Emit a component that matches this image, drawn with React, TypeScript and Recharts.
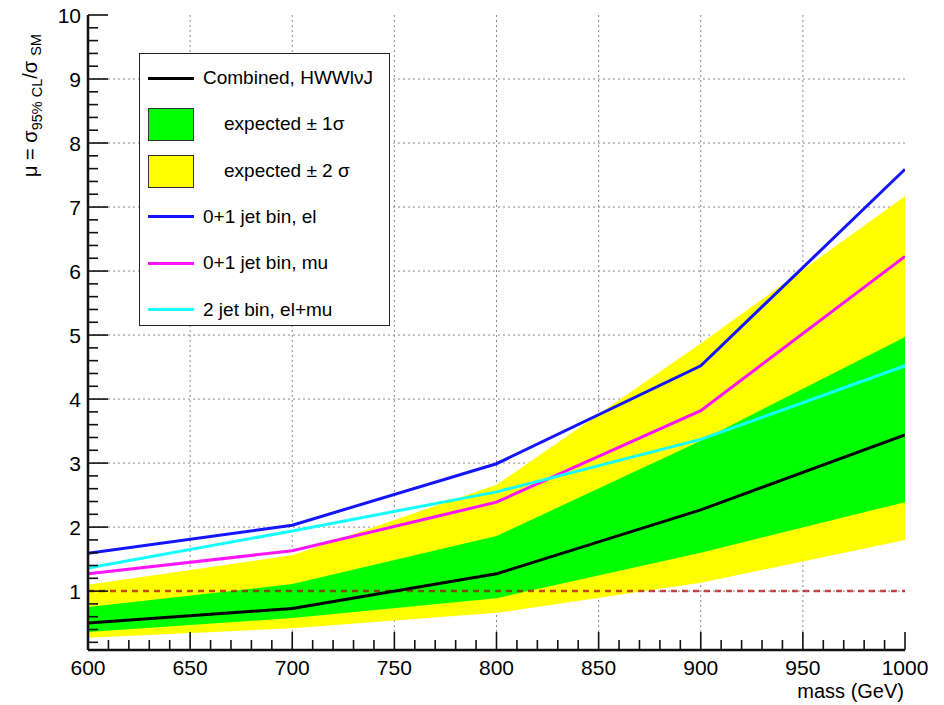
import React from 'react';
import { ComposedChart, Line, Area, XAxis, YAxis, ReferenceLine, CartesianGrid } from 'recharts';

// ---- data ----
const masses = [600, 700, 800, 900, 1000];
const combined = [0.5, 0.73, 1.27, 2.27, 3.44];
const el01 = [1.59, 2.03, 2.99, 4.52, 7.59];
const mu01 = [1.27, 1.63, 2.39, 3.82, 6.23];
const jet2 = [1.36, 1.94, 2.55, 3.37, 4.52];
const sig1Lo = [0.36, 0.58, 0.89, 1.6, 2.39];
const sig1Hi = [0.75, 1.11, 1.86, 3.35, 4.97];
const sig2Lo = [0.27, 0.42, 0.66, 1.13, 1.8];
const sig2Hi = [1.1, 1.56, 2.66, 4.87, 7.17];
const smLevel = 1;

const xMajor = [600, 650, 700, 750, 800, 850, 900, 950, 1000];
const yMajor = [1, 2, 3, 4, 5, 6, 7, 8, 9, 10];
const xDomain: [number, number] = [600, 1000];
const yDomain: [number, number] = [0.08, 10];

const xTicks: number[] = [];
for (let v = 600; v <= 1000; v += 10) xTicks.push(v);
const yTicks: number[] = [];
for (let i = 1; i <= 50; i++) yTicks.push(Math.round(i * 2) / 10);

const gridXs = xMajor.filter((v) => v > xDomain[0] && v < xDomain[1]);
const gridYs = yMajor.filter((v) => v < yDomain[1]);

const data = masses.map((m, i) => ({
  mass: m,
  combined: combined[i],
  el01: el01[i],
  mu01: mu01[i],
  jet2: jet2[i],
  band1: [sig1Lo[i], sig1Hi[i]],
  band2: [sig2Lo[i], sig2Hi[i]],
}));

const legendItems = [
  { label: 'Combined, HWWlνJ', kind: 'line', color: '#000000' },
  { label: 'expected ± 1σ', kind: 'box', color: '#00ff00' },
  { label: 'expected ± 2 σ', kind: 'box', color: '#ffff00' },
  { label: '0+1 jet bin, el', kind: 'line', color: '#1414ff' },
  { label: '0+1 jet bin, mu', kind: 'line', color: '#ff14ff' },
  { label: '2 jet bin, el+mu', kind: 'line', color: '#14ffff' },
];

const FONT = "'Liberation Sans', Arial, Helvetica, sans-serif";

const isMajorX = (v: number) => xMajor.includes(v);
const isMajorY = (v: number) => yMajor.some((m) => Math.abs(m - v) < 1e-6);

const toFn = (s: any, domain: [number, number], lo: number, hi: number) => {
  if (typeof s === 'function') return (v: number) => s(v);
  if (s && typeof s.map === 'function') return (v: number) => s.map(v);
  if (s && typeof s.scale === 'function') return (v: number) => s.scale(v);
  return (v: number) => lo + ((v - domain[0]) / (domain[1] - domain[0])) * (hi - lo);
};

const gridX = (p: any) => {
  const o = p?.offset || {};
  const f = toFn(p?.xAxis?.scale, xDomain, o.left, o.left + o.width);
  return gridXs.map((v) => f(v));
};
const gridY = (p: any) => {
  const o = p?.offset || {};
  const f = toFn(p?.yAxis?.scale, yDomain, o.top + o.height, o.top);
  return gridYs.map((v) => f(v));
};

const BottomTick = (props: any) => {
  const { x, y, payload } = props;
  const v = payload.value;
  const major = isMajorX(v);
  return (
    <g>
      <line x1={x} x2={x} y1={y} y2={y - (major ? 18 : 10)} stroke="#111" strokeWidth={1.6} />
      {major && (
        <text x={x} y={y + 25} textAnchor="middle" fontSize={21} fontFamily={FONT} fill="#000">
          {v}
        </text>
      )}
    </g>
  );
};

const TopTick = (props: any) => {
  const { x, y, payload } = props;
  const major = isMajorX(payload.value);
  return <line x1={x} x2={x} y1={y} y2={y + (major ? 6 : 3)} stroke="#333" strokeWidth={1.2} />;
};

const LeftTick = (props: any) => {
  const { x, y, payload } = props;
  const v = payload.value;
  const major = isMajorY(v);
  return (
    <g>
      <line x1={x} x2={x + (major ? 20 : 10)} y1={y} y2={y} stroke="#111" strokeWidth={1.6} />
      {major && (
        <text x={x - 7} y={y} dy="0.36em" textAnchor="end" fontSize={21} fontFamily={FONT} fill="#000">
          {Math.round(v)}
        </text>
      )}
    </g>
  );
};

const RightTick = (props: any) => {
  const { x, y, payload } = props;
  const major = isMajorY(payload.value);
  return <line x1={x} x2={x - (major ? 6 : 3)} y1={y} y2={y} stroke="#333" strokeWidth={1.2} />;
};

const Legend = () => (
  <div
    style={{
      position: 'absolute',
      left: 139,
      top: 53,
      width: 251,
      height: 273,
      border: '1.5px solid #222',
      background: '#fff',
      boxSizing: 'border-box',
      fontFamily: FONT,
    }}
  >
    {legendItems.map((it, i) => {
      const cy = 24 + 46.3 * i;
      return (
        <div key={it.label}>
          {it.kind === 'line' ? (
            <div style={{ position: 'absolute', left: 8, top: cy - 1.5, width: 46, height: 3, background: it.color }} />
          ) : (
            <div
              style={{
                position: 'absolute',
                left: 8,
                top: cy - 16,
                width: 46,
                height: 33,
                background: it.color,
                border: '1px solid #333',
                boxSizing: 'border-box',
              }}
            />
          )}
          <div
            style={{
              position: 'absolute',
              left: it.kind === 'line' ? 63 : 84,
              top: cy - 12,
              height: 24,
              lineHeight: '24px',
              fontSize: 19,
              color: '#000',
              whiteSpace: 'nowrap',
            }}
          >
            {it.label}
          </div>
        </div>
      );
    })}
  </div>
);

const Titles = () => (
  <svg width={944} height={705} style={{ position: 'absolute', left: 0, top: 0, pointerEvents: 'none' }}>
    <text x={904} y={698} textAnchor="end" fontSize={20} fontFamily={FONT} fill="#000">
      mass (GeV)
    </text>
    <g transform="translate(37,177) rotate(-90)">
      <text x={0} y={0} fontSize={20} fontFamily={FONT} fill="#000">
        <tspan>μ = σ</tspan>
        <tspan fontSize={14.5} dy={5}>95% CL</tspan>
        <tspan dy={-5}>/σ</tspan>
        <tspan fontSize={14.5} dy={4} dx={5}>SM</tspan>
      </text>
    </g>
  </svg>
);

export default function App() {
  return (
    <div style={{ position: 'absolute', left: 0, top: 0, width: 944, height: 705, background: '#fff' }}>
      <ComposedChart
        width={944}
        height={705}
        data={data}
        margin={{ top: 15, right: 39, bottom: 0, left: 0 }}
      >
        <CartesianGrid
          stroke="#888"
          strokeDasharray="2 3"
          strokeWidth={1}
          verticalCoordinatesGenerator={gridX}
          horizontalCoordinatesGenerator={gridY}
        />
        <XAxis
          dataKey="mass"
          type="number"
          domain={xDomain}
          ticks={xTicks}
          interval={0}
          height={55}
          tickSize={0}
          tickMargin={0}
          tick={<BottomTick />}
          tickLine={false}
          axisLine={{ stroke: '#111', strokeWidth: 2.5 }}
          allowDataOverflow
        />
        <XAxis
          xAxisId="top"
          orientation="top"
          dataKey="mass"
          type="number"
          domain={xDomain}
          ticks={xTicks}
          interval={0}
          height={0}
          tickSize={0}
          tickMargin={0}
          tick={<TopTick />}
          tickLine={false}
          axisLine={{ stroke: '#111', strokeWidth: 2.5 }}
          allowDataOverflow
        />
        <YAxis
          type="number"
          domain={yDomain}
          ticks={yTicks}
          interval={0}
          width={88}
          tickSize={0}
          tickMargin={0}
          tick={<LeftTick />}
          tickLine={false}
          axisLine={{ stroke: '#111', strokeWidth: 2.5 }}
          allowDataOverflow
        />
        <YAxis
          yAxisId="right"
          orientation="right"
          type="number"
          domain={yDomain}
          ticks={yTicks}
          interval={0}
          width={0}
          tickSize={0}
          tickMargin={0}
          tick={<RightTick />}
          tickLine={false}
          axisLine={{ stroke: '#111', strokeWidth: 2.5 }}
          allowDataOverflow
        />
        <Area dataKey="band2" type="linear" stroke="none" fill="#ffff00" fillOpacity={1} isAnimationActive={false} />
        <Area dataKey="band1" type="linear" stroke="none" fill="#00ff00" fillOpacity={1} isAnimationActive={false} />
        <ReferenceLine y={smLevel} stroke="#b00000" strokeOpacity={0.7} strokeWidth={2.5} strokeDasharray="6 5" />
        <Line dataKey="el01" type="linear" stroke="#1414ff" strokeWidth={3} dot={false} isAnimationActive={false} />
        <Line dataKey="mu01" type="linear" stroke="#ff14ff" strokeWidth={3} dot={false} isAnimationActive={false} />
        <Line dataKey="jet2" type="linear" stroke="#14ffff" strokeWidth={3} dot={false} isAnimationActive={false} />
        <Line dataKey="combined" type="linear" stroke="#000000" strokeWidth={3} dot={false} isAnimationActive={false} />
      </ComposedChart>
      <Legend />
      <Titles />
    </div>
  );
}
